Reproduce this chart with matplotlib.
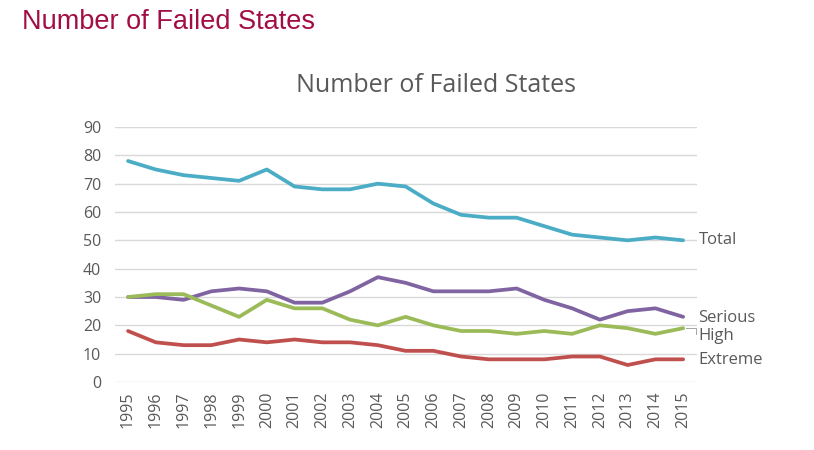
import matplotlib
matplotlib.use("Agg")
import matplotlib.pyplot as plt

years = list(range(1995, 2016))
total = [78, 75, 73, 72, 71, 75, 69, 68, 68, 70, 69, 63, 59, 58, 58, 55, 52, 51, 50, 51, 50]
serious = [30, 30, 29, 32, 33, 32, 28, 28, 32, 37, 35, 32, 32, 32, 33, 29, 26, 22, 25, 26, 23]
high = [30, 31, 31, 27, 23, 29, 26, 26, 22, 20, 23, 20, 18, 18, 17, 18, 17, 20, 19, 17, 19]
extreme = [18, 14, 13, 13, 15, 14, 15, 14, 14, 13, 11, 11, 9, 8, 8, 8, 9, 9, 6, 8, 8]

series = [
    ("Total", total, "#4BACC6"),
    ("Serious", serious, "#8064A2"),
    ("High", high, "#9BBB59"),
    ("Extreme", extreme, "#C0504D"),
]

W, H = 814, 450
fig = plt.figure(figsize=(W / 100, H / 100), dpi=100)

# page heading
fig.text(22 / W, 1 - 22 / H, "Number of Failed States", color="#A30D45",
         fontsize=19.5, family="Liberation Sans", va="center", ha="left")

# chart title, centred over the whole chart box rather than the plot area
fig.text(436 / W, 1 - 86 / H, "Number of Failed States", color="#595959",
         fontsize=18, family="Open Sans", va="center", ha="center")

ax = fig.add_axes([115 / W, 1 - 382 / H, 582 / W, 255 / H])
for name, vals, col in series:
    ax.plot(years, vals, color=col, lw=2.7, solid_capstyle="round")

ax.set_xlim(1994.53, 2015.5)
ax.set_ylim(0, 90)
ax.set_yticks(range(0, 91, 10))
ax.set_xticks(years)
ax.set_xticklabels([str(y) for y in years], rotation=90)
ax.grid(axis="y", color="#D9D9D9", lw=1)
ax.set_axisbelow(True)
for s in ax.spines.values():
    s.set_visible(False)
ax.tick_params(length=0, colors="#595959", labelsize=11.5, pad=7)
ax.tick_params(axis="y", pad=10)
for lab in ax.get_xticklabels() + ax.get_yticklabels():
    lab.set_family("Open Sans")

# end labels
label_pos = {"Total": 50, "Serious": 22.5, "High": 16.3, "Extreme": 7.8}
for name, vals, col in series:
    ax.annotate(name, xy=(2015, vals[-1]), xytext=(2015.55, label_pos[name]),
                textcoords="data", color="#595959", fontsize=12,
                family="Open Sans", va="center", ha="left", annotation_clip=False)
ax.plot([2015.1, 2015.45, 2015.45], [19, 19, 16.8], color="#A6A6A6", lw=0.7,
        clip_on=False)

fig.savefig("out.png", dpi=100)
